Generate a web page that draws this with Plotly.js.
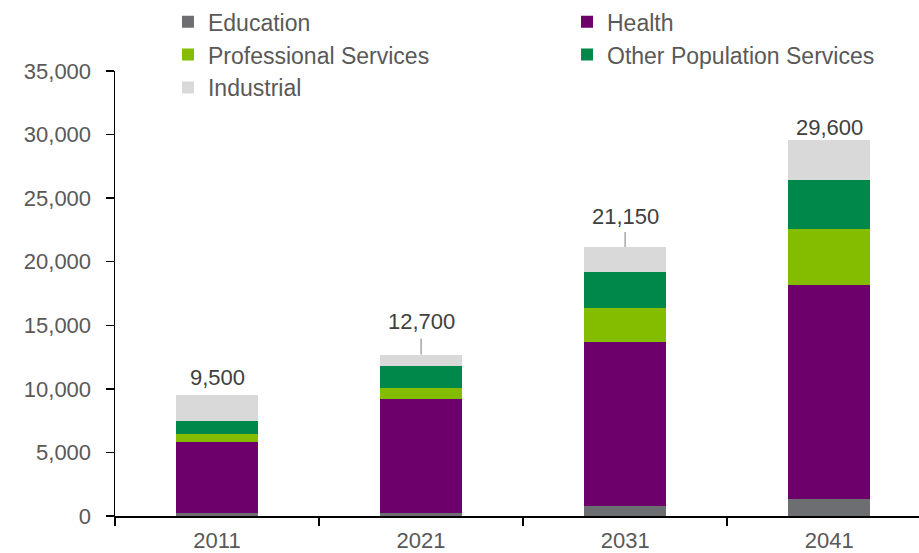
<!DOCTYPE html>
<html>
<head>
<meta charset="utf-8">
<script src="https://cdn.plot.ly/plotly-3.0.1.min.js"></script>
<style>
  html, body { margin: 0; padding: 0; background: #ffffff; }
  #chart { width: 919px; height: 553px; }
</style>
</head>
<body>
<div id="chart"></div>
<script>
// Employment by sector, stacked per census year
const years = ['2011', '2021', '2031', '2041'];

const education    = [250, 250, 800, 1300];
const health       = [5550, 8950, 12850, 16900];
const professional = [650, 900, 2700, 4400];
const otherPop     = [1000, 1700, 2850, 3850];
const industrial   = [2050, 900, 1950, 3150];

const totals = [9500, 12700, 21150, 29600];

const FONT = 'Liberation Sans, Arial, Helvetica, sans-serif';
const TEXT_GREY = '#595959';

function barTrace(name, values, color, legendId) {
  return {
    type: 'bar',
    name: name,
    x: years,
    y: values,
    width: 0.4,
    marker: { color: color, line: { width: 0 } },
    legend: legendId,
    hoverinfo: 'name+y'
  };
}

const traces = [
  barTrace('Education', education, '#6D6E71', 'legend'),
  barTrace('Health', health, '#6E006B', 'legend2'),
  barTrace('Professional Services', professional, '#84BD00', 'legend'),
  barTrace('Other Population Services', otherPop, '#00884A', 'legend2'),
  barTrace('Industrial', industrial, '#D9D9D9', 'legend')
];

// Total labels sit above each stack; some are joined to the bar by a short leader
const labelLift = [18, 33, 31, 12];
const leaderLen = [0, 16, 15, 0];

const annotations = years.map((yr, i) => ({
  x: i,
  y: totals[i],
  xref: 'x',
  yref: 'y',
  text: totals[i].toLocaleString('en-US'),
  showarrow: false,
  xanchor: 'center',
  yanchor: 'middle',
  yshift: labelLift[i],
  font: { family: FONT, size: 22, color: '#404040' }
}));

const shapes = [];
years.forEach((yr, i) => {
  if (leaderLen[i] > 0) {
    shapes.push({
      type: 'line',
      xref: 'x',
      yref: 'y',
      x0: i, x1: i,
      ysizemode: 'pixel',
      yanchor: totals[i],
      y0: 0, y1: leaderLen[i],
      line: { color: '#A6A6A6', width: 1.5 }
    });
  }
});

// Two legend columns placed over the top of the plot area
const legendCommon = {
  orientation: 'v',
  traceorder: 'normal',
  xref: 'paper',
  yref: 'paper',
  xanchor: 'left',
  yanchor: 'top',
  y: 1.159,
  bgcolor: 'rgba(0,0,0,0)',
  borderwidth: 0,
  tracegroupgap: 0,
  font: { family: FONT, size: 23, color: TEXT_GREY }
};

const layout = {
  width: 919,
  height: 553,
  paper_bgcolor: '#ffffff',
  plot_bgcolor: '#ffffff',
  barmode: 'stack',
  bargap: 0.6,
  showlegend: true,
  margin: { l: 115, r: 0, t: 71, b: 37, pad: 0 },
  font: { family: FONT, size: 22, color: TEXT_GREY },
  legend: Object.assign({}, legendCommon, { x: 0.0659 }),
  legend2: Object.assign({}, legendCommon, { x: 0.5622 }),
  xaxis: {
    type: 'category',
    range: [-0.5, 3.44],
    showline: true,
    linecolor: '#000000',
    linewidth: 2,
    ticks: 'outside',
    tickson: 'boundaries',
    ticklen: 8,
    tickwidth: 1.5,
    tickcolor: '#000000',
    ticklabelstandoff: 4,
    showgrid: false,
    zeroline: false,
    tickfont: { family: FONT, size: 22, color: TEXT_GREY }
  },
  yaxis: {
    range: [0, 35000],
    dtick: 5000,
    tick0: 0,
    tickformat: ',d',
    showline: true,
    linecolor: '#000000',
    linewidth: 1.5,
    ticks: 'outside',
    ticklen: 8,
    tickwidth: 1.5,
    tickcolor: '#000000',
    ticklabelstandoff: 10,
    showgrid: false,
    zeroline: false,
    tickfont: { family: FONT, size: 22, color: TEXT_GREY }
  },
  annotations: annotations,
  shapes: shapes
};

Plotly.newPlot('chart', traces, layout, { displayModeBar: false, staticPlot: true });
</script>
</body>
</html>
